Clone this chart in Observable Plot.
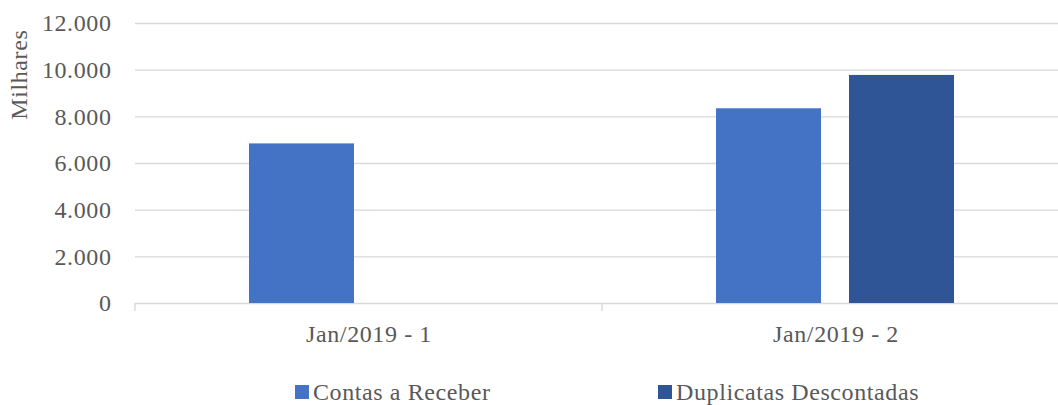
<!DOCTYPE html>
<html>
<head>
<meta charset="utf-8">
<script src="https://cdn.jsdelivr.net/npm/d3@7"></script>
<script src="https://cdn.jsdelivr.net/npm/@observablehq/plot@0.6"></script>
<style>
  html, body { margin: 0; padding: 0; background: #fff; overflow: hidden; }
  #wrap { position: relative; width: 1058px; height: 405px; font-family: "Liberation Serif", "DejaVu Serif", serif; color: #595959; }
  #legend { position: absolute; left: 295px; top: 376px; height: 32px; display: flex; align-items: center; font-size: 24px; letter-spacing: 0.6px; white-space: nowrap; }
  .item { display: inline-flex; align-items: center; width: 363px; }
  .item:last-child { width: auto; }
  .sw { width: 14px; height: 14px; margin-right: 4px; display: inline-block; }
  svg text { letter-spacing: 0.6px; }
</style>
</head>
<body>
<div id="wrap">
  <div id="chart"></div>
  <div id="legend"></div>
</div>
<script>
const groups = ["Jan/2019 - 1", "Jan/2019 - 2"];
const seriesNames = ["Contas a Receber", "Duplicatas Descontadas"];
const contasReceber = [6840, 8345];
const duplicatasDescontadas = [0, 9775];
const seriesColors = ["#4472C4", "#2F5597"];
const yTicks = [0, 2000, 4000, 6000, 8000, 10000, 12000];
const yLabel = "Milhares";

const seriesValues = [contasReceber, duplicatasDescontadas];
const rows = [];
groups.forEach((g, i) => {
  seriesNames.forEach((s, j) => rows.push({group: g, series: s, value: seriesValues[j][i]}));
});

const ptBR = d3.formatLocale({decimal: ",", thousands: ".", grouping: [3], currency: ["R$", ""]});
const fmt = ptBR.format(",.0f");

const W = 1058, H = 370, ML = 135, MT = 23, MB = 67;
const plot = Plot.plot({
  width: W,
  height: H,
  marginLeft: ML,
  marginRight: 0,
  marginTop: MT,
  marginBottom: MB,
  style: {fontFamily: '"Liberation Serif", "DejaVu Serif", serif', fontSize: "24px", color: "#595959", overflow: "visible"},
  fx: {domain: groups, range: [ML, 1069], padding: 0, label: null},
  x: {domain: seriesNames, paddingInner: 0.21, paddingOuter: 0.86, axis: null},
  y: {domain: [0, 12000], label: null},
  color: {domain: seriesNames, range: seriesColors},
  marks: [
    Plot.gridY(yTicks, {stroke: "#d9d9d9", strokeOpacity: 1, strokeWidth: 1.4}),
    Plot.axisY(yTicks, {tickSize: 0, tickPadding: 24, tickFormat: fmt, fill: "#595959", fontSize: 24, label: null}),
    Plot.axisFx({anchor: "bottom", tickSize: 0, tickPadding: 21, fill: "#595959", fontSize: 24, label: null}),
    Plot.barY(rows, {fx: "group", x: "series", y: "value", fill: "series"})
  ]
});
document.getElementById("chart").appendChild(plot);

// category boundary ticks along the baseline, from the library's scales
const svg = d3.select(plot);
const fxs = plot.scale("fx");
const ys = plot.scale("y");
const y0 = ys.apply(0);
const step = fxs.step;
const r0 = fxs.range[0];
for (let i = 0; i <= groups.length; i++) {
  const xx = r0 + i * step;
  svg.append("line").attr("x1", xx).attr("x2", xx).attr("y1", y0).attr("y2", y0 + 8)
    .attr("stroke", "#d9d9d9").attr("stroke-width", 1.4);
}
svg.append("text").text(yLabel)
  .attr("transform", `translate(27,${(ys.apply(12000) + ys.apply(8000)) / 2 + 5}) rotate(-90)`)
  .attr("text-anchor", "middle").attr("fill", "#595959").attr("font-size", 24)
  .attr("font-family", '"Liberation Serif", "DejaVu Serif", serif');

const legend = document.getElementById("legend");
seriesNames.forEach((s, i) => {
  const it = document.createElement("span");
  it.className = "item";
  const sw = document.createElement("span");
  sw.className = "sw";
  sw.style.background = seriesColors[i];
  it.appendChild(sw);
  it.appendChild(document.createTextNode(s));
  legend.appendChild(it);
});
</script>
</body>
</html>
